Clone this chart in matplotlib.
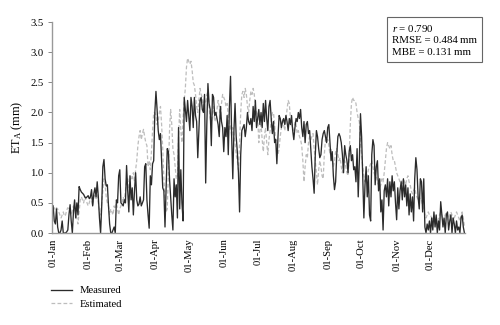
import numpy as np
import matplotlib
matplotlib.use("Agg")
import matplotlib.pyplot as plt

plt.rcParams['font.family'] = ['Liberation Serif', 'DejaVu Serif']
plt.rcParams['mathtext.fontset'] = 'custom'
plt.rcParams['mathtext.rm'] = 'Liberation Serif'
plt.rcParams['mathtext.it'] = 'Liberation Serif:italic'

# daily ET_A (mm), one list per month
meas_jan = [0.45, 0.2, 0.15, 0.4, 0.1, 0.0, 0.0, 0.05, 0.2, 0.0, 0.0, 0.0, 0.02, 0.05, 0.3, 0.47,
            0.2, 0.0, 0.35, 0.55, 0.25, 0.5, 0.3, 0.77, 0.72, 0.68, 0.66, 0.64, 0.6, 0.58, 0.6]
meas_feb = [0.62, 0.57, 0.6, 0.72, 0.45, 0.65, 0.75, 0.6, 0.85, 0.6, 0.25, 0.0, 0.45, 1.1, 1.22, 0.9,
            0.78, 0.8, 0.45, 0.15, 0.0, 0.0, 0.05, 0.1, 0.0, 0.55, 0.5, 0.95]
meas_mar = [1.05, 0.5, 0.48, 0.45, 0.55, 0.5, 1.12, 0.7, 0.35, 0.95, 0.55, 0.75, 0.3, 0.7, 1.0, 0.55,
            0.45, 0.48, 0.6, 0.45, 0.5, 0.55, 1.1, 1.15, 0.55, 0.3, 0.08, 0.95, 0.8, 1.15, 1.2]
meas_apr = [2.0, 2.35, 2.05, 1.7, 1.55, 1.65, 1.2, 0.75, 0.7, 0.1, 0.75, 1.4, 1.35, 0.9, 0.6, 0.3,
            0.05, 0.9, 0.6, 0.8, 0.25, 1.75, 0.4, 1.05, 0.5, 0.2, 2.25, 2.05, 1.85, 2.2]
meas_may = [1.95, 1.7, 2.25, 2.1, 1.75, 2.25, 1.95, 1.85, 1.25, 1.7, 2.2, 2.25, 2.05, 2.0, 2.3, 0.83,
            1.8, 2.48, 2.15, 2.05, 1.45, 2.3, 2.25, 1.95, 2.0, 1.9, 1.8, 1.6, 2.1, 1.85, 1.75]
meas_jun = [1.35, 1.75, 1.6, 1.95, 1.3, 2.1, 2.6, 1.6, 0.9, 1.7, 2.15, 1.6, 1.35, 1.0, 0.35, 1.3,
            1.7, 1.75, 1.8, 1.6, 1.75, 2.0, 1.85, 1.8, 1.9, 1.7, 2.1, 1.85, 2.2, 1.75]
meas_jul = [1.9, 2.05, 1.8, 2.0, 1.75, 2.15, 1.85, 2.2, 1.9, 1.7, 2.1, 2.2, 1.9, 1.65, 1.85, 1.5,
            1.55, 1.15, 1.6, 1.95, 1.9, 1.75, 1.85, 1.9, 1.8, 1.95, 1.85, 1.7, 1.9, 1.8, 1.95]
meas_aug = [1.7, 1.55, 1.75, 1.9, 1.85, 2.0, 1.9, 2.05, 1.75, 1.6, 1.85, 1.5, 1.8, 1.85, 1.65, 1.7,
            1.4, 1.1, 0.9, 0.66, 1.3, 1.7, 1.6, 1.4, 1.25, 1.3, 1.55, 1.65, 1.7, 1.6, 1.5]
meas_sep = [1.75, 1.8, 1.5, 1.2, 1.35, 0.95, 0.72, 0.85, 1.3, 1.6, 1.65, 1.6, 1.5, 1.3, 1.0, 1.45,
            1.3, 1.2, 1.0, 1.35, 1.45, 1.2, 1.3, 1.05, 1.1, 0.85, 1.4, 0.6, 1.2, 1.98]
meas_oct = [1.6, 0.9, 0.25, 0.8, 1.1, 0.6, 0.95, 0.3, 0.2, 1.3, 1.55, 1.45, 0.8, 1.1, 1.2, 0.7,
            0.9, 0.35, 0.55, 0.05, 0.7, 0.8, 0.6, 0.9, 0.45, 0.85, 0.6, 0.95, 0.7, 0.85, 0.5]
meas_nov = [0.22, 0.75, 0.4, 0.7, 0.85, 0.55, 0.9, 0.6, 0.8, 0.45, 0.75, 0.3, 0.65, 0.35, 0.6, 0.2,
            0.9, 1.25, 1.05, 0.6, 0.4, 0.9, 0.85, 0.35, 0.9, 0.1, 0.0, 0.15, 0.05, 0.2]
meas_dec = [0.0, 0.25, 0.05, 0.35, 0.1, 0.3, 0.0, 0.2, 0.05, 0.52, 0.3, 0.1, 0.25, 0.0, 0.3, 0.35,
            0.05, 0.2, 0.3, 0.0, 0.25, 0.15, 0.0, 0.2, 0.05, 0.1, 0.0, 0.25, 0.3, 0.1, 0.0]

est_jan = [0.4, 0.42, 0.38, 0.42, 0.4, 0.35, 0.3, 0.25, 0.3, 0.35, 0.28, 0.3, 0.38, 0.42, 0.4, 0.35,
           0.3, 0.38, 0.45, 0.4, 0.3, 0.25, 0.15, 0.35, 0.55, 0.6, 0.55, 0.5, 0.6, 0.55, 0.5]
est_feb = [0.45, 0.5, 0.6, 0.55, 0.45, 0.6, 0.65, 0.55, 0.7, 0.5, 0.35, 0.3, 0.5, 0.7, 0.9, 0.8,
           0.6, 0.5, 0.45, 0.3, 0.4, 0.35, 0.3, 0.45, 0.4, 0.5, 0.4, 0.3]
est_mar = [0.4, 0.45, 0.5, 0.6, 0.55, 0.7, 0.85, 0.9, 0.75, 0.8, 0.95, 0.9, 1.0, 0.85, 1.05, 1.2,
           1.45, 1.6, 1.7, 1.55, 1.65, 1.72, 1.6, 1.5, 1.45, 1.1, 1.2, 1.05, 1.35, 1.7, 2.0]
est_apr = [2.0, 1.95, 1.8, 1.85, 2.0, 2.1, 1.8, 1.4, 0.9, 0.55, 0.35, 0.4, 1.0, 1.7, 2.05, 1.8,
           1.4, 1.3, 1.1, 0.9, 0.95, 1.6, 2.05, 1.7, 1.5, 1.9, 2.2, 2.4, 2.75, 2.9]
est_may = [2.85, 2.8, 2.85, 2.7, 2.5, 2.45, 2.3, 2.1, 2.0, 2.2, 2.4, 2.3, 2.25, 2.1, 2.2, 2.15,
           2.3, 2.35, 2.1, 1.9, 1.8, 2.0, 2.1, 1.85, 1.9, 2.05, 2.2, 2.1, 1.9, 2.15, 2.3]
est_jun = [2.25, 2.2, 2.1, 2.15, 1.95, 1.7, 1.8, 1.6, 1.75, 1.65, 1.5, 1.3, 1.2, 1.05, 1.5, 2.0,
           2.3, 2.35, 2.25, 2.4, 2.3, 2.1, 2.0, 2.2, 2.35, 2.3, 2.4, 2.3, 2.1, 2.0]
est_jul = [1.95, 1.5, 1.7, 1.8, 1.55, 1.35, 1.6, 1.75, 1.5, 1.3, 1.55, 1.7, 1.85, 2.0, 2.0, 1.8,
           1.5, 1.45, 1.3, 1.4, 1.6, 1.75, 1.9, 1.8, 1.7, 1.85, 2.05, 2.2, 2.15, 1.9, 1.8]
est_aug = [1.75, 1.7, 1.85, 1.8, 1.65, 1.7, 1.6, 1.55, 1.45, 1.2, 0.85, 1.1, 1.3, 1.25, 1.5, 1.6,
           1.55, 1.6, 1.65, 1.4, 1.2, 1.0, 0.8, 1.05, 1.2, 1.1, 0.95, 0.9, 1.3, 1.55, 1.5]
est_sep = [1.55, 1.45, 1.3, 1.4, 1.25, 1.1, 1.2, 1.35, 1.4, 1.3, 1.2, 1.25, 1.1, 1.0, 1.15, 1.2,
           1.1, 1.0, 0.95, 1.3, 1.8, 2.15, 2.25, 2.2, 2.2, 2.15, 2.0, 1.9, 1.85, 1.5]
est_oct = [1.3, 1.1, 0.95, 0.85, 0.9, 0.95, 1.05, 1.1, 1.15, 1.2, 1.1, 1.0, 0.95, 0.95, 0.85, 0.8,
           0.75, 0.8, 0.9, 0.85, 1.0, 1.2, 1.4, 1.5, 1.45, 1.4, 1.45, 1.3, 1.2, 1.2, 1.1]
est_nov = [1.0, 0.95, 0.9, 0.85, 0.88, 0.8, 0.9, 0.85, 0.8, 0.9, 0.95, 0.85, 0.8, 0.7, 0.65, 0.7,
           0.75, 0.65, 0.6, 0.55, 0.6, 0.55, 0.55, 0.45, 0.4, 0.3, 0.25, 0.3, 0.35, 0.3]
est_dec = [0.3, 0.25, 0.2, 0.3, 0.25, 0.2, 0.15, 0.25, 0.3, 0.35, 0.3, 0.2, 0.25, 0.3, 0.35, 0.3,
           0.25, 0.3, 0.35, 0.3, 0.2, 0.25, 0.3, 0.35, 0.3, 0.25, 0.2, 0.3, 0.35, 0.25, 0.1]

month_labels = ['01-Jan', '01-Feb', '01-Mar', '01-Apr', '01-May', '01-Jun',
                '01-Jul', '01-Aug', '01-Sep', '01-Oct', '01-Nov', '01-Dec']

measured = np.concatenate([meas_jan, meas_feb, meas_mar, meas_apr, meas_may, meas_jun,
                           meas_jul, meas_aug, meas_sep, meas_oct, meas_nov, meas_dec])
estimated = np.concatenate([est_jan, est_feb, est_mar, est_apr, est_may, est_jun,
                            est_jul, est_aug, est_sep, est_oct, est_nov, est_dec])
month_len = [len(m) for m in (meas_jan, meas_feb, meas_mar, meas_apr, meas_may, meas_jun,
                              meas_jul, meas_aug, meas_sep, meas_oct, meas_nov, meas_dec)]
month_start = np.concatenate([[0], np.cumsum(month_len)[:-1]])
day = np.arange(len(measured))

fig = plt.figure(figsize=(5, 3.25), dpi=100)
ax = fig.add_axes([0.104, 0.283, 0.826, 0.649])

ax.plot(day, estimated, color='#bdbdbd', lw=0.9, dashes=(3, 1.8), label='Estimated')
ax.plot(day, measured, color='#2b2b2b', lw=0.95, label='Measured')

ax.set_xlim(-1, len(day) - 0.5)
ax.set_ylim(0, 3.5)
ax.set_yticks(np.arange(0, 3.51, 0.5))
ax.set_yticklabels(['%.1f' % v for v in np.arange(0, 3.51, 0.5)], fontsize=7.7)
ax.set_xticks(month_start)
ax.set_xticklabels(month_labels, rotation=90, fontsize=7.7)
ax.tick_params(axis='x', length=0, pad=4)
ax.tick_params(axis='y', length=3, width=0.7, color='#888888', pad=3)
for s in ('top', 'right'):
    ax.spines[s].set_visible(False)
for s in ('left', 'bottom'):
    ax.spines[s].set_color('#999999')
    ax.spines[s].set_linewidth(1.0)
ax.set_ylabel(r'ET$_\mathrm{A}$ (mm)', fontsize=8.8, labelpad=4)

h, l = ax.get_legend_handles_labels()
fig.legend(h[::-1], l[::-1], loc='upper left', bbox_to_anchor=(0.102, 0.12), frameon=False,
           fontsize=7.7, handlelength=2.0, handletextpad=0.7, labelspacing=0.35,
           borderaxespad=0, borderpad=0)

stats = '$r$ = 0.790\nRMSE = 0.484\u2009mm\nMBE = 0.131\u2009mm'
fig.text(0.784, 0.93, stats, fontsize=7.8, va='top', ha='left', linespacing=1.35,
         bbox=dict(boxstyle='square,pad=0.5', fc='white', ec='#666666', lw=0.8))

fig.savefig('out.png', dpi=100)
